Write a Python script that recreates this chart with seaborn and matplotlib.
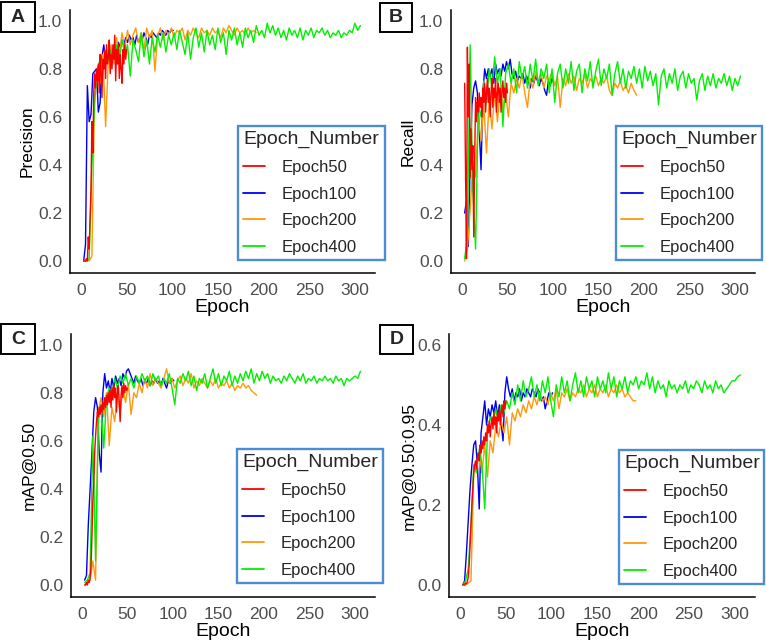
import numpy as np
import pandas as pd
import matplotlib
matplotlib.use("Agg")
import matplotlib.pyplot as plt
import seaborn as sns

# sampling step (epochs) of each run, first epoch is 3
steps = {"Epoch50": 1, "Epoch100": 2, "Epoch200": 3, "Epoch400": 3}
legend_order = ["Epoch50", "Epoch100", "Epoch200", "Epoch400"]
draw_order = ["Epoch100", "Epoch200", "Epoch400", "Epoch50"]
colors = {"Epoch50": "#FF0000", "Epoch100": "#0000F0", "Epoch200": "#FF980A", "Epoch400": "#00F000"}

# ---- Precision ----
prec_e50 = [0.00, 0.00, 0.00, 0.01, 0.00, 0.10, 0.05, 0.18, 0.30, 0.58, 0.45, 0.70, 0.78, 0.72, 0.80, 0.75,
            0.82, 0.70, 0.86, 0.78, 0.68, 0.84, 0.80, 0.88, 0.76, 0.90, 0.82, 0.85, 0.92, 0.78, 0.86, 0.80,
            0.90, 0.84, 0.94, 0.75, 0.88, 0.82, 0.90, 0.76, 0.86, 0.80, 0.74, 0.88, 0.82, 0.90, 0.84, 0.88]
prec_e100 = [0.00, 0.07, 0.73, 0.58, 0.61, 0.78, 0.79, 0.80, 0.62, 0.66, 0.85, 0.90, 0.83, 0.86, 0.84, 0.88,
             0.85, 0.90, 0.87, 0.91, 0.89, 0.92, 0.90, 0.93, 0.91, 0.94, 0.92, 0.93, 0.90, 0.94, 0.91, 0.93,
             0.92, 0.95, 0.93, 0.90, 0.94, 0.93, 0.95, 0.94, 0.93, 0.95, 0.94, 0.96, 0.95, 0.94, 0.96, 0.95,
             0.96, 0.96]
prec_e200 = [0.00, 0.00, 0.00, 0.02, 0.70, 0.80, 0.74, 0.86, 0.56, 0.84, 0.90, 0.82, 0.93, 0.86, 0.95, 0.88,
             0.96, 0.90, 0.94, 0.97, 0.91, 0.95, 0.88, 0.97, 0.93, 0.96, 0.79, 0.94, 0.97, 0.92, 0.96, 0.94,
             0.97, 0.93, 0.96, 0.95, 0.97, 0.92, 0.96, 0.94, 0.97, 0.95, 0.93, 0.97, 0.95, 0.96, 0.94, 0.97,
             0.95, 0.96, 0.93, 0.97, 0.95, 0.98, 0.96, 0.94, 0.97, 0.95, 0.96, 0.94, 0.97, 0.95, 0.96, 0.95]
prec_e400 = [0.00, 0.00, 0.01, 0.40, 0.66, 0.80, 0.84, 0.78, 0.87, 0.83, 0.88, 0.85, 0.90, 0.84, 0.92, 0.86,
             0.90, 0.77, 0.92, 0.88, 0.83, 0.95, 0.85, 0.92, 0.82, 0.93, 0.87, 0.94, 0.89, 0.95, 0.87, 0.94,
             0.90, 0.95, 0.88, 0.96, 0.91, 0.86, 0.95, 0.84, 0.93, 0.97, 0.89, 0.95, 0.87, 0.96, 0.90, 0.94,
             0.88, 0.97, 0.91, 0.95, 0.86, 0.96, 0.92, 0.97, 0.90, 0.95, 0.89, 0.97, 0.93, 0.96, 0.91, 0.98,
             0.94, 0.96, 0.93, 0.99, 0.95, 0.98, 0.94, 0.97, 0.93, 0.96, 0.92, 0.97, 0.94, 0.96, 0.93, 0.97,
             0.92, 0.96, 0.94, 0.97, 0.93, 0.96, 0.95, 0.97, 0.94, 0.96, 0.93, 0.95, 0.94, 0.96, 0.93, 0.95,
             0.94, 0.96, 0.95, 0.99, 0.96, 0.98]

# ---- Recall ----
rec_e50 = [0.74, 0.36, 0.01, 0.89, 0.60, 0.82, 0.35, 0.55, 0.38, 0.48, 0.10, 0.42, 0.68, 0.58, 0.66, 0.62,
           0.70, 0.64, 0.68, 0.60, 0.72, 0.66, 0.74, 0.62, 0.70, 0.76, 0.66, 0.72, 0.60, 0.70, 0.76, 0.64,
           0.72, 0.68, 0.76, 0.62, 0.70, 0.74, 0.66, 0.72, 0.62, 0.70, 0.75, 0.68, 0.72, 0.66, 0.74, 0.70]
rec_e100 = [0.20, 0.25, 0.06, 0.40, 0.65, 0.72, 0.75, 0.70, 0.55, 0.38, 0.70, 0.80, 0.76, 0.80, 0.77, 0.80,
            0.74, 0.82, 0.78, 0.80, 0.77, 0.82, 0.79, 0.83, 0.80, 0.84, 0.78, 0.76, 0.79, 0.75, 0.77, 0.76,
            0.78, 0.74, 0.77, 0.75, 0.72, 0.76, 0.74, 0.77, 0.75, 0.73, 0.76, 0.74, 0.71, 0.69, 0.75, 0.73,
            0.76, 0.74]
rec_e200 = [0.00, 0.05, 0.21, 0.40, 0.35, 0.60, 0.50, 0.65, 0.45, 0.68, 0.55, 0.70, 0.58, 0.72, 0.62, 0.70,
            0.60, 0.74, 0.70, 0.76, 0.72, 0.78, 0.70, 0.64, 0.76, 0.72, 0.79, 0.74, 0.78, 0.72, 0.77, 0.75,
            0.79, 0.73, 0.77, 0.64, 0.76, 0.73, 0.78, 0.74, 0.77, 0.71, 0.76, 0.74, 0.78, 0.72, 0.76, 0.74,
            0.77, 0.73, 0.76, 0.74, 0.77, 0.71, 0.69, 0.74, 0.72, 0.75, 0.71, 0.73, 0.70, 0.74, 0.71, 0.69]
rec_e400 = [0.01, 0.10, 0.90, 0.30, 0.05, 0.65, 0.60, 0.75, 0.66, 0.80, 0.72, 0.85, 0.74, 0.80, 0.56, 0.78,
            0.82, 0.74, 0.80, 0.70, 0.83, 0.76, 0.81, 0.72, 0.82, 0.75, 0.84, 0.73, 0.80, 0.76, 0.82, 0.70,
            0.80, 0.66, 0.78, 0.82, 0.72, 0.80, 0.74, 0.83, 0.71, 0.79, 0.82, 0.70, 0.80, 0.75, 0.83, 0.72,
            0.79, 0.84, 0.73, 0.80, 0.76, 0.82, 0.69, 0.78, 0.83, 0.74, 0.80, 0.72, 0.79, 0.76, 0.81, 0.74,
            0.80, 0.72, 0.81, 0.75, 0.79, 0.73, 0.78, 0.65, 0.77, 0.80, 0.72, 0.78, 0.74, 0.80, 0.71, 0.77,
            0.79, 0.72, 0.78, 0.74, 0.76, 0.67, 0.75, 0.78, 0.71, 0.77, 0.73, 0.78, 0.72, 0.76, 0.74, 0.78,
            0.73, 0.77, 0.71, 0.76, 0.73, 0.77]

# ---- mAP@0.50 ----
map50_e50 = [0.00, 0.00, 0.01, 0.00, 0.02, 0.01, 0.03, 0.08, 0.20, 0.35, 0.42, 0.55, 0.62, 0.68, 0.72, 0.70,
             0.74, 0.71, 0.75, 0.72, 0.76, 0.73, 0.78, 0.74, 0.79, 0.75, 0.80, 0.76, 0.81, 0.74, 0.82, 0.77,
             0.84, 0.78, 0.82, 0.72, 0.80, 0.83, 0.76, 0.68, 0.79, 0.83, 0.78, 0.84, 0.80, 0.83, 0.81, 0.82]
map50_e100 = [0.02, 0.04, 0.25, 0.40, 0.55, 0.72, 0.78, 0.74, 0.55, 0.47, 0.80, 0.88, 0.82, 0.85, 0.80, 0.86,
              0.82, 0.87, 0.84, 0.86, 0.83, 0.88, 0.86, 0.89, 0.90, 0.88, 0.86, 0.84, 0.87, 0.85, 0.84, 0.86,
              0.83, 0.85, 0.84, 0.86, 0.83, 0.85, 0.84, 0.86, 0.84, 0.85, 0.83, 0.86, 0.84, 0.82, 0.85, 0.84,
              0.86, 0.85]
map50_e200 = [0.00, 0.01, 0.02, 0.10, 0.02, 0.72, 0.78, 0.70, 0.80, 0.58, 0.74, 0.68, 0.80, 0.72, 0.82, 0.76,
              0.84, 0.71, 0.80, 0.78, 0.84, 0.80, 0.86, 0.82, 0.88, 0.83, 0.86, 0.84, 0.82, 0.86, 0.90, 0.84,
              0.86, 0.82, 0.85, 0.87, 0.83, 0.86, 0.84, 0.88, 0.82, 0.85, 0.83, 0.86, 0.84, 0.82, 0.85, 0.83,
              0.86, 0.82, 0.84, 0.83, 0.85, 0.82, 0.84, 0.81, 0.83, 0.82, 0.84, 0.82, 0.83, 0.81, 0.80, 0.79]
map50_e400 = [0.01, 0.02, 0.05, 0.62, 0.10, 0.68, 0.75, 0.57, 0.78, 0.82, 0.80, 0.86, 0.82, 0.87, 0.84, 0.88,
              0.83, 0.86, 0.82, 0.87, 0.84, 0.88, 0.85, 0.87, 0.83, 0.88, 0.85, 0.87, 0.83, 0.86, 0.84, 0.88,
              0.82, 0.75, 0.86, 0.84, 0.88, 0.85, 0.89, 0.83, 0.87, 0.81, 0.86, 0.84, 0.88, 0.82, 0.86, 0.90,
              0.84, 0.88, 0.83, 0.87, 0.85, 0.89, 0.83, 0.87, 0.84, 0.88, 0.85, 0.89, 0.86, 0.90, 0.84, 0.88,
              0.85, 0.89, 0.86, 0.88, 0.84, 0.87, 0.85, 0.86, 0.84, 0.87, 0.85, 0.88, 0.86, 0.84, 0.87, 0.85,
              0.88, 0.84, 0.86, 0.85, 0.87, 0.84, 0.86, 0.85, 0.87, 0.85, 0.86, 0.84, 0.87, 0.85, 0.86, 0.83,
              0.86, 0.85, 0.86, 0.87, 0.86, 0.89]

# ---- mAP@0.50:0.95 ----
map5095_e50 = [0.000, 0.002, 0.000, 0.005, 0.003, 0.008, 0.02, 0.05, 0.10, 0.15, 0.20, 0.24, 0.28, 0.30, 0.31,
               0.29, 0.32, 0.33, 0.31, 0.35, 0.33, 0.36, 0.34, 0.37, 0.35, 0.38, 0.36, 0.40, 0.38, 0.41, 0.37,
               0.40, 0.42, 0.39, 0.43, 0.40, 0.42, 0.38, 0.43, 0.41, 0.44, 0.40, 0.43, 0.45, 0.42, 0.46, 0.44,
               0.46]
map5095_e100 = [0.00, 0.01, 0.08, 0.16, 0.24, 0.30, 0.35, 0.36, 0.30, 0.19, 0.38, 0.42, 0.46, 0.40, 0.44, 0.42,
                0.45, 0.43, 0.46, 0.42, 0.45, 0.40, 0.36, 0.48, 0.52, 0.49, 0.47, 0.49, 0.46, 0.48, 0.47, 0.49,
                0.46, 0.48, 0.47, 0.49, 0.48, 0.47, 0.49, 0.48, 0.47, 0.49, 0.48, 0.46, 0.47, 0.44, 0.46, 0.48,
                0.47, 0.48]
map5095_e200 = [0.00, 0.00, 0.005, 0.01, 0.28, 0.30, 0.33, 0.28, 0.35, 0.27, 0.36, 0.33, 0.40, 0.37, 0.41, 0.38,
                0.42, 0.35, 0.43, 0.41, 0.44, 0.42, 0.45, 0.43, 0.46, 0.44, 0.47, 0.45, 0.48, 0.46, 0.47, 0.45,
                0.48, 0.46, 0.49, 0.44, 0.48, 0.47, 0.49, 0.46, 0.48, 0.47, 0.49, 0.48, 0.50, 0.47, 0.49, 0.48,
                0.50, 0.47, 0.49, 0.48, 0.50, 0.47, 0.49, 0.48, 0.50, 0.48, 0.49, 0.47, 0.48, 0.47, 0.46, 0.46]
map5095_e400 = [0.00, 0.01, 0.04, 0.15, 0.30, 0.28, 0.34, 0.30, 0.19, 0.38, 0.42, 0.40, 0.44, 0.41, 0.45, 0.43,
                0.46, 0.44, 0.48, 0.45, 0.50, 0.46, 0.51, 0.47, 0.49, 0.52, 0.47, 0.50, 0.46, 0.51, 0.48, 0.52,
                0.46, 0.42, 0.50, 0.47, 0.52, 0.48, 0.51, 0.46, 0.50, 0.53, 0.48, 0.51, 0.47, 0.52, 0.49, 0.51,
                0.47, 0.52, 0.49, 0.51, 0.48, 0.53, 0.49, 0.52, 0.47, 0.51, 0.49, 0.52, 0.48, 0.51, 0.50, 0.52,
                0.49, 0.51, 0.50, 0.53, 0.49, 0.52, 0.48, 0.51, 0.49, 0.50, 0.47, 0.51, 0.49, 0.50, 0.48, 0.50,
                0.49, 0.51, 0.48, 0.50, 0.49, 0.51, 0.50, 0.48, 0.51, 0.49, 0.50, 0.48, 0.51, 0.49, 0.50, 0.48,
                0.49, 0.50, 0.51, 0.51, 0.52, 0.525]

panels = [
    ("A", "Precision", [prec_e50, prec_e100, prec_e200, prec_e400], [0.0, 0.2, 0.4, 0.6, 0.8, 1.0], (-0.05, 1.045)),
    ("B", "Recall", [rec_e50, rec_e100, rec_e200, rec_e400], [0.0, 0.2, 0.4, 0.6, 0.8, 1.0], (-0.05, 1.045)),
    ("C", "mAP@0.50", [map50_e50, map50_e100, map50_e200, map50_e400], [0.0, 0.2, 0.4, 0.6, 0.8, 1.0], (-0.05, 1.045)),
    ("D", "mAP@0.50:0.95", [map5095_e50, map5095_e100, map5095_e200, map5095_e400], [0.0, 0.2, 0.4, 0.6], (-0.03, 0.627)),
]


def build_frame(series):
    frames = []
    for name, vals in zip(legend_order, series):
        frames.append(pd.DataFrame({"Epoch": 3 + steps[name] * np.arange(len(vals)),
                                    "value": vals, "Epoch_Number": name}))
    return pd.concat(frames, ignore_index=True)


sns.set_style("white")
plt.rcParams["font.family"] = ["Liberation Sans", "DejaVu Sans"]

W, H = 766, 644
fig = plt.figure(figsize=(W / 100, H / 100), dpi=100)

# pixel boxes: axes (left, top, right, bottom), legend (left, top, width), tag box (l, t, r, b), ylabel x
layout = {
    "A": dict(ax=(70, 10, 375, 273), leg=(238, 126, 147), tag=(1, 2, 35, 32), ylab=35),
    "B": dict(ax=(451, 10, 755, 273), leg=(616, 126, 146), tag=(380, 3, 412, 32), ylab=416),
    "C": dict(ax=(71, 334, 375, 597), leg=(237, 449, 146), tag=(1, 324, 35, 354), ylab=37),
    "D": dict(ax=(449, 334, 755, 597), leg=(619, 450, 145), tag=(380, 325, 413, 354), ylab=417),
}

for tag, ylabel, series, yticks, ylim in panels:
    lay = layout[tag]
    l, t, r, b = lay["ax"]
    ax = fig.add_axes([l / W, 1 - b / H, (r - l) / W, (b - t) / H])
    df = build_frame(series)
    sns.lineplot(data=df, x="Epoch", y="value", hue="Epoch_Number", hue_order=draw_order,
                 palette=colors, linewidth=1.0, errorbar=None, ax=ax)

    ax.set_xlim(-12, 322)
    ax.set_ylim(*ylim)
    ax.set_xticks([0, 50, 100, 150, 200, 250, 300])
    ax.set_yticks(yticks)
    ax.set_yticklabels([f"{v:.1f}" for v in yticks])
    ax.tick_params(axis="both", labelsize=12.5, labelcolor="#4D4D4D", color="#333333",
                   length=3.5, width=1, direction="out")
    ax.tick_params(axis="x", pad=4)
    ax.tick_params(axis="y", pad=2)
    for s in ["top", "right"]:
        ax.spines[s].set_visible(False)
    for s in ["left", "bottom"]:
        ax.spines[s].set_color("black")
        ax.spines[s].set_linewidth(1.1)

    ax.set_xlabel("Epoch", fontsize=14, color="black")
    ax.set_ylabel(ylabel, fontsize=12.5, color="black")
    ax.xaxis.set_label_coords(0.5, -26 / (b - t))
    ax.yaxis.set_label_coords((lay["ylab"] - l) / (r - l), 0.5)

    # legend in the reference order
    handles, labels = ax.get_legend_handles_labels()
    ax.get_legend().remove()
    hmap = dict(zip(labels, handles))
    lx, ly, lw = lay["leg"]
    leg = ax.legend([hmap[n] for n in legend_order], legend_order, title="Epoch_Number",
                    loc="upper left", bbox_to_anchor=(lx / W, 1 - ly / H - 0.5, lw / W, 0.5),
                    bbox_transform=fig.transFigure, mode="expand", borderaxespad=0,
                    fontsize=12, title_fontsize=14, frameon=True, fancybox=False,
                    handlelength=1.3, handletextpad=1.0, labelspacing=0.7, borderpad=0.3,
                    alignment="left")
    leg.get_frame().set_edgecolor("#1F6FC5")
    leg.get_frame().set_linewidth(1.7)
    for hl in leg.get_lines():
        hl.set_linewidth(1.3)

    # panel tag box
    tl, tt, tr, tb = lay["tag"]
    fig.add_artist(plt.Rectangle((tl / W, 1 - tb / H), (tr - tl) / W, (tb - tt) / H,
                                 transform=fig.transFigure, fill=False, ec="black", lw=1.4))
    fig.text((tl + tr) / 2 / W, 1 - (tt + tb) / 2 / H, tag, ha="center", va="center",
             fontsize=14, fontweight="bold")

fig.savefig("out.png", dpi=100)
